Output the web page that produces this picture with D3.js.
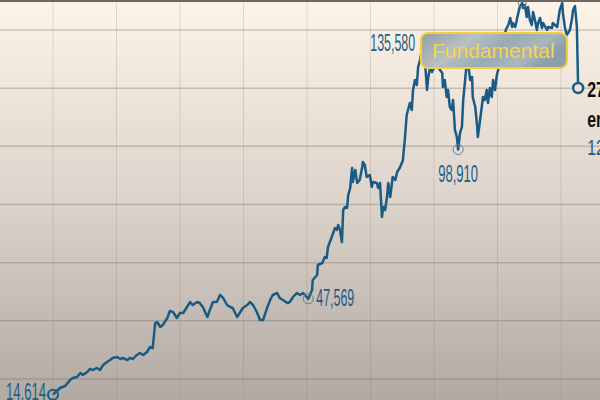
<!DOCTYPE html>
<html>
<head>
<meta charset="utf-8">
<script src="https://cdn.jsdelivr.net/npm/d3@7"></script>
<style>
  html, body { margin: 0; padding: 0; background: #fff; }
  svg { display: block; }
</style>
</head>
<body>
<svg class="chart" width="600" height="400"></svg>
<script>
// index level (time in fractional years)
var years = [
  2016.00, 2016.11, 2016.19, 2016.27, 2016.31, 2016.38, 2016.43, 2016.47, 2016.54, 2016.58,
  2016.63, 2016.69, 2016.74, 2016.79, 2016.85, 2016.90, 2016.94, 2017.01, 2017.06, 2017.10,
  2017.17, 2017.21, 2017.26, 2017.32, 2017.37, 2017.42, 2017.48, 2017.53, 2017.57, 2017.61,
  2017.64, 2017.69, 2017.73, 2017.80, 2017.84, 2017.89, 2017.95, 2018.00, 2018.05, 2018.11,
  2018.16, 2018.20, 2018.27, 2018.31, 2018.36, 2018.43, 2018.47, 2018.52, 2018.58, 2018.63,
  2018.68, 2018.74, 2018.79, 2018.83, 2018.90, 2018.94, 2018.99, 2019.06, 2019.10, 2019.15,
  2019.21, 2019.26, 2019.31, 2019.37, 2019.42, 2019.46, 2019.53, 2019.57, 2019.62, 2019.69,
  2019.73, 2019.78, 2019.84, 2019.89, 2019.94, 2020.02, 2020.08, 2020.09, 2020.16, 2020.17,
  2020.24, 2020.28, 2020.31, 2020.33, 2020.39, 2020.44, 2020.47, 2020.49, 2020.52, 2020.55,
  2020.57, 2020.60, 2020.63, 2020.65, 2020.68, 2020.71, 2020.72, 2020.76, 2020.79, 2020.83,
  2020.87, 2020.88, 2020.91, 2020.94, 2020.99, 2021.02, 2021.04, 2021.10, 2021.12, 2021.15,
  2021.18, 2021.20, 2021.23, 2021.26, 2021.28, 2021.31, 2021.34, 2021.35, 2021.39, 2021.42,
  2021.46, 2021.50, 2021.51, 2021.54, 2021.57, 2021.62, 2021.65, 2021.67, 2021.70, 2021.73,
  2021.75, 2021.78, 2021.83, 2021.87, 2021.89, 2021.91, 2021.94, 2021.97, 2021.98, 2022.02,
  2022.06, 2022.13, 2022.14, 2022.17, 2022.20, 2022.22, 2022.25, 2022.28, 2022.30, 2022.33,
  2022.36, 2022.38, 2022.41, 2022.44, 2022.46, 2022.49, 2022.52, 2022.54, 2022.57, 2022.60,
  2022.61, 2022.65, 2022.68, 2022.69, 2022.72, 2022.76, 2022.77, 2022.80, 2022.83, 2022.85,
  2022.88, 2022.91, 2022.93, 2022.96, 2022.99, 2023.01, 2023.04, 2023.09, 2023.13, 2023.17,
  2023.20, 2023.23, 2023.24, 2023.28, 2023.31, 2023.35, 2023.39, 2023.40, 2023.43, 2023.46,
  2023.48, 2023.51, 2023.54, 2023.56, 2023.59, 2023.62, 2023.64, 2023.67, 2023.70, 2023.72,
  2023.78, 2023.80, 2023.86, 2023.87, 2023.94, 2023.98, 2024.02, 2024.03, 2024.06, 2024.09,
  2024.14, 2024.17, 2024.19, 2024.22, 2024.25, 2024.27
];
var values = [
  14614, 16900, 17590, 19660, 20340, 20690, 22060, 21380, 22410, 23440,
  23090, 23780, 23090, 24810, 25850, 26530, 27220, 27560, 26880, 27220,
  26530, 27220, 26880, 28250, 28940, 28250, 29280, 31000, 30660, 39260,
  39600, 37880, 38570, 40970, 43380, 43040, 40970, 42690, 42690, 44760,
  46480, 45440, 46480, 46130, 44760, 41320, 43720, 46480, 46480, 48880,
  47850, 45440, 44760, 44410, 41320, 42690, 44410, 45440, 46480, 45440,
  43040, 40290, 40290, 44410, 47160, 48880, 49570, 47850, 47160, 46130,
  46480, 48190, 49570, 48880, 49570, 47569, 50600, 54040, 55760, 59200,
  59890, 61950, 61610, 65390, 68830, 71920, 71230, 72950, 71230, 67110,
  78110, 79140, 78800, 83270, 85670, 92550, 87740, 91860, 87390, 88420,
  92900, 94610, 93580, 89460, 90140, 86020, 87740, 87390, 85670, 87390,
  75700, 79140, 78110, 82580, 87390, 82580, 87740, 89460, 88420, 91170,
  92550, 94610, 95300, 102180, 110770, 114900, 112490, 119370, 122810, 121090,
  127280, 129680, 135580, 125560, 119370, 123840, 127280, 125560, 126250, 127280,
  127280, 125220, 120400, 122810, 116960, 119370, 113520, 112490, 115930, 105620,
  103210, 98910, 104590, 106650, 115930, 122810, 129680, 127970, 122810, 123840,
  116960, 113520, 106650, 103210, 108020, 114900, 116960, 115930, 119370, 114900,
  120060, 116960, 122810, 119370, 124530, 126250, 129000, 134840, 140000, 141720,
  144130, 141030, 142410, 141030, 144130, 147910, 149280, 147560, 148600, 144470,
  147910, 143440, 141720, 146190, 143440, 140000, 142410, 144130, 140690, 142410,
  140000, 141030, 140690, 142410, 141030, 146880, 149280, 145850, 141030, 138280,
  140000, 143440, 146880, 148250, 141030, 120060
];

var gridValues = [20000, 40000, 60000, 80000, 100000, 120000, 140000];
var gridYears = [2016, 2017, 2018, 2019, 2020, 2021, 2022, 2023, 2024];

// labelled points: index into the series
var callouts = [
  {i: 0,   anchor: "end",    dx: -7, dy: 5,   ring: "bold",  width: 40},
  {i: 75,  anchor: "start",  dx: 8,  dy: 7,   ring: "thin",  width: 38},
  {i: 151, anchor: "middle", dx: 0,  dy: 32,  ring: "thin",  width: 40},
  {i: 132, anchor: "end",    dx: -8, dy: 8,   ring: "none",  width: 45}
];
var peakIndex = 186;
var endLines = ["27 de marzo", "en cierre"];
var boxText = "Fundamental";

var svg = d3.select("svg.chart"),
    width = 600,
    height = 400;

var x = d3.scaleLinear().domain([2016, 2024]).range([53, 561]),
    y = d3.scaleLinear().domain([20000, 140000]).range([379, 30]);

var fmt = d3.format(",");
var data = years.map(function(t, i) { return {t: t, v: values[i]}; });

var blue = "#1a5b85";
var condensed = "'Liberation Sans Narrow', 'Arial Narrow', 'Liberation Sans', sans-serif";

// background gradient
var defs = svg.append("defs");
var bg = defs.append("linearGradient")
    .attr("id", "bg").attr("x1", 0).attr("y1", 0).attr("x2", 0).attr("y2", 1);
bg.append("stop").attr("offset", "0%").attr("stop-color", "#fdf3e9");
bg.append("stop").attr("offset", "50%").attr("stop-color", "#dcd3ca");
bg.append("stop").attr("offset", "100%").attr("stop-color", "#b1aaa3");

var boxFill = defs.append("linearGradient")
    .attr("id", "boxfill").attr("x1", 0).attr("y1", 0).attr("x2", 1).attr("y2", 0.3);
boxFill.append("stop").attr("offset", "0%").attr("stop-color", "#8f9ea8");
boxFill.append("stop").attr("offset", "35%").attr("stop-color", "#b9c0c2");
boxFill.append("stop").attr("offset", "60%").attr("stop-color", "#9aabb5");
boxFill.append("stop").attr("offset", "85%").attr("stop-color", "#a9b6bc");
boxFill.append("stop").attr("offset", "100%").attr("stop-color", "#8d9fab");

svg.append("rect")
    .attr("width", width).attr("height", height)
    .attr("fill", "url(#bg)");

// grid
svg.append("g").selectAll("line")
    .data(gridYears)
    .enter().append("line")
    .attr("x1", function(d) { return x(d); })
    .attr("x2", function(d) { return x(d); })
    .attr("y1", 0).attr("y2", height)
    .style("stroke", "rgba(120,108,98,0.2)")
    .style("stroke-width", 1);

svg.append("g").selectAll("line")
    .data(gridValues)
    .enter().append("line")
    .attr("x1", 0).attr("x2", width)
    .attr("y1", function(d) { return y(d); })
    .attr("y2", function(d) { return y(d); })
    .style("stroke", "rgba(105,95,88,0.3)")
    .style("stroke-width", 1.5);

// the series
var line = d3.line()
    .x(function(d) { return x(d.t); })
    .y(function(d) { return y(d.v); });

svg.append("path")
    .datum(data)
    .attr("d", line)
    .style("fill", "none")
    .style("stroke", blue)
    .style("stroke-width", 2.5)
    .style("stroke-linejoin", "round");

// rings + number labels
callouts.forEach(function(c) {
    var d = data[c.i], px = x(d.t), py = y(d.v);
    if (c.ring === "bold") {
        svg.append("circle").attr("cx", px).attr("cy", py).attr("r", 5)
            .style("fill", "none").style("stroke", blue).style("stroke-width", 2);
    } else if (c.ring === "thin") {
        svg.append("circle").attr("cx", px).attr("cy", py).attr("r", 5)
            .style("fill", "none").style("stroke", "#5f7f96").style("stroke-width", 1);
    }
    svg.append("text")
        .attr("x", px + c.dx)
        .attr("y", py + c.dy)
        .attr("text-anchor", c.anchor)
        .attr("textLength", c.width)
        .attr("lengthAdjust", "spacingAndGlyphs")
        .style("font-family", condensed)
        .style("font-size", "23px")
        .style("fill", "#1f5e88")
        .text(fmt(d.v));
});

// high point ring
svg.append("circle")
    .attr("cx", x(data[peakIndex].t)).attr("cy", y(data[peakIndex].v)).attr("r", 4)
    .style("fill", "none").style("stroke", "#5f7f96").style("stroke-width", 1);

// last value
var last = data[data.length - 1];
svg.append("circle")
    .attr("cx", x(last.t)).attr("cy", y(last.v)).attr("r", 5)
    .style("fill", "#ebe2d9").style("stroke", blue).style("stroke-width", 2.5);

var endG = svg.append("g")
    .attr("transform", "translate(" + (x(last.t) + 9) + "," + (y(last.v) + 9) + ") scale(0.72,1)");
endG.selectAll("text.endline")
    .data(endLines)
    .enter().append("text")
    .attr("class", "endline")
    .attr("y", function(d, i) { return i * 30; })
    .style("font-family", condensed)
    .style("font-weight", "bold")
    .style("font-size", "22px")
    .style("fill", "#111")
    .text(function(d) { return d; });
endG.append("text")
    .attr("y", 58)
    .style("font-family", condensed)
    .style("font-size", "22px")
    .style("fill", "#1f5e88")
    .text(fmt(last.v));

// overlay tag
svg.append("rect")
    .attr("x", 421).attr("y", 33).attr("width", 146).attr("height", 35)
    .attr("rx", 7).attr("ry", 7)
    .style("fill", "url(#boxfill)")
    .style("stroke", "#f3cf3c")
    .style("stroke-width", 2.2);

svg.append("text")
    .attr("x", 432).attr("y", 58)
    .style("font-family", "'Liberation Sans', Arial, sans-serif")
    .style("font-size", "21px")
    .style("fill", "#f6d44a")
    .text(boxText);

// top edge
svg.append("rect")
    .attr("width", width).attr("height", 2)
    .attr("fill", "#6d6762");
</script>
</body>
</html>
